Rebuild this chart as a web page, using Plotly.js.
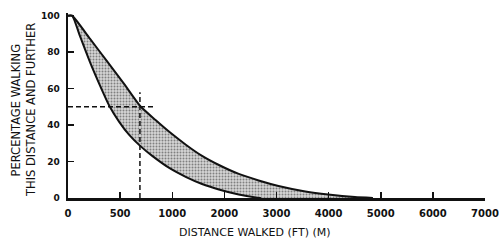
<!DOCTYPE html>
<html>
<head>
<meta charset="utf-8">
<script src="https://cdn.plot.ly/plotly-3.0.1.min.js"></script>
<style>html,body{margin:0;padding:0;background:#fff;}#chart{width:499px;height:240px;}</style>
</head>
<body>
<div id="chart"></div>
<script>
// Tick labels of the (non-uniform) distance axis, in feet
const tickFeet = [0, 500, 1000, 2000, 3000, 4000, 5000, 6000, 7000];
const yTicks = [0, 20, 40, 60, 80, 100];

// Upper boundary curve (distance in ft, percentage walking)
const upperFt  = [0, 40, 210, 379, 538, 692, 837, 971, 1267, 1572, 1895, 2276, 2657, 3038, 3553, 3991, 4505, 4850];
const upperPct = [100, 100, 87.4, 74.7, 62.6, 50.5, 42.9, 36.3, 29.1, 23.1, 18.1, 13.2, 9.6, 6.6, 3.6, 1.9, 0.5, 0];

// Lower boundary curve
const lowerFt  = [0, 40, 117, 210, 304, 397, 491, 587, 692, 808, 971, 1267, 1572, 1895, 2276, 2600, 2700];
const lowerPct = [100, 100, 88.5, 74.7, 62.1, 50.5, 41.8, 34.6, 28.6, 23.1, 16.5, 11.5, 7.7, 4.7, 1.9, 0.3, 0];

// Dashed reference lines (50 % point)
const refHFt  = [0, 817];
const refHPct = [50, 50];
const refVFt  = [690, 690];
const refVPct = [0, 58];

// Piecewise axis scale: each labelled tick is one equal step on the drawn axis
function scaleFt(ft) {
  for (let i = 0; i < tickFeet.length - 1; i++) {
    const a = tickFeet[i], b = tickFeet[i + 1];
    if (ft <= b) return i + (ft - a) / (b - a);
  }
  return tickFeet.length - 1;
}
const sx = arr => arr.map(scaleFt);

const uX = sx(upperFt), lX = sx(lowerFt);
const polyX = uX.concat(lX.slice().reverse());
const polyY = upperPct.concat(lowerPct.slice().reverse());

const traces = [
  {
    x: polyX, y: polyY, type: 'scatter', mode: 'lines',
    fill: 'toself', line: {width: 0, shape: 'spline', smoothing: 0.5},
    fillcolor: '#c4c4c4',
    fillpattern: {shape: '.', bgcolor: '#d6d6d6', fgcolor: '#808080', size: 3, solidity: 0.35},
    hoverinfo: 'skip'
  },
  { x: uX, y: upperPct, type: 'scatter', mode: 'lines',
    line: {color: '#111', width: 2, shape: 'spline', smoothing: 0.5} },
  { x: lX, y: lowerPct, type: 'scatter', mode: 'lines',
    line: {color: '#111', width: 2, shape: 'spline', smoothing: 0.5} },
  { x: sx(refHFt), y: refHPct, type: 'scatter', mode: 'lines',
    line: {color: '#111', width: 1.5, dash: '5px,3px'} },
  { x: sx(refVFt), y: refVPct, type: 'scatter', mode: 'lines',
    line: {color: '#111', width: 1.5, dash: '5px,3px'} }
];

const layout = {
  width: 499, height: 240,
  margin: {l: 68, r: 14, t: 13, b: 42, pad: 0},
  paper_bgcolor: '#fff', plot_bgcolor: '#fff',
  showlegend: false,
  xaxis: {
    range: [0, tickFeet.length - 1],
    tickvals: tickFeet.map((v, i) => i),
    ticktext: tickFeet.map(String),
    showgrid: false, zeroline: false,
    showline: true, linecolor: '#111', linewidth: 2.5,
    ticks: 'inside', ticklen: 6, tickwidth: 1.5, tickcolor: '#111',
    ticklabelstandoff: 4,
    tickfont: {family: 'DejaVu Sans', size: 10, color: '#111', weight: 'bold'}
  },
  yaxis: {
    range: [0, 101.5],
    tickvals: yTicks,
    ticktext: yTicks.map(String),
    showgrid: false, zeroline: false,
    showline: true, linecolor: '#111', linewidth: 2.5,
    ticks: 'inside', ticklen: 6, tickwidth: 1.5, tickcolor: '#111',
    ticklabelstandoff: 4,
    tickfont: {family: 'DejaVu Sans', size: 9, color: '#111', weight: 'bold'}
  },
  annotations: [
    {text: 'PERCENTAGE WALKING', xref: 'paper', yref: 'paper',
     x: (15.5 - 68) / 417, y: (198 - 110) / 185, xanchor: 'center', yanchor: 'middle',
     textangle: -90, showarrow: false,
     font: {family: 'DejaVu Sans', size: 11.5, color: '#111'}},
    {text: 'THIS DISTANCE AND FURTHER', xref: 'paper', yref: 'paper',
     x: (31 - 68) / 417, y: (198 - 110) / 185, xanchor: 'center', yanchor: 'middle',
     textangle: -90, showarrow: false,
     font: {family: 'DejaVu Sans', size: 11.5, color: '#111'}},
    {text: 'DISTANCE WALKED (FT) (M)', xref: 'paper', yref: 'paper',
     x: (254.5 - 68) / 417, y: (198 - 232.5) / 185, xanchor: 'center', yanchor: 'middle',
     showarrow: false,
     font: {family: 'DejaVu Sans', size: 11, color: '#111'}}
  ]
};

Plotly.newPlot('chart', traces, layout, {displayModeBar: false, staticPlot: true});
</script>
</body>
</html>
